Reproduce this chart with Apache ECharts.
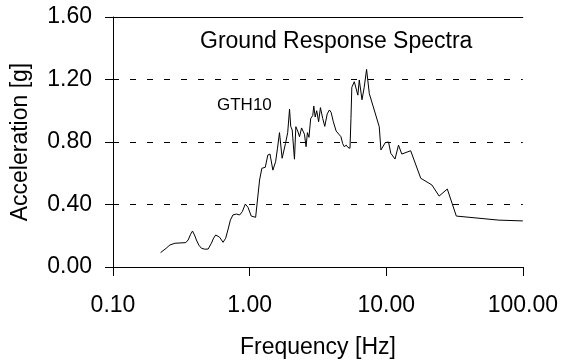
<!DOCTYPE html>
<html><head><meta charset="utf-8">
<script src="https://cdn.jsdelivr.net/npm/echarts@6/dist/echarts.min.js"></script>
<style>html,body{margin:0;padding:0;background:#fff}#c{width:561px;height:364px}</style>
</head><body><div id="c"></div>
<script>
const freq = [0.223,0.245,0.261,0.284,0.341,0.355,0.370,0.382,0.395,0.408,0.425,0.444,0.470,0.497,0.525,0.545,0.565,0.604,0.639,0.668,0.700,0.723,0.755,0.800,0.845,0.884,0.93,0.973,1.028,1.107,1.183,1.23,1.302,1.36,1.41,1.48,1.55,1.60,1.655,1.73,1.83,1.90,1.96,2.0,2.05,2.13,2.18,2.25,2.32,2.40,2.46,2.52,2.59,2.65,2.72,2.80,2.9,2.95,3.02,3.1,3.2,3.3,3.43,3.55,3.7,3.84,3.95,4.1,4.3,4.5,4.66,4.8,4.93,5.1,5.25,5.43,5.52,5.6,5.84,6.0,6.2,6.35,6.65,6.9,7.18,7.52,8.17,8.89,9.15,9.84,10.4,10.8,11.6,12.3,13.0,15.1,17.9,21.6,24.4,28.0,32.6,66.8,100];
const accel = [0.092,0.12,0.141,0.152,0.156,0.173,0.21,0.23,0.205,0.173,0.14,0.12,0.114,0.115,0.152,0.185,0.205,0.19,0.158,0.184,0.25,0.30,0.333,0.339,0.333,0.354,0.403,0.382,0.326,0.318,0.557,0.632,0.638,0.717,0.723,0.62,0.674,0.76,0.86,0.696,0.79,0.86,1.01,0.90,0.877,0.69,0.898,0.87,0.834,0.89,0.898,0.85,0.77,0.86,0.83,0.95,0.97,1.03,0.96,1.0,0.93,1.02,0.95,0.90,0.98,1.005,0.99,0.93,0.87,0.85,0.834,0.79,0.77,0.78,0.765,0.76,0.95,1.15,1.186,1.19,1.10,1.197,1.07,1.15,1.265,1.11,1.005,0.898,0.749,0.796,0.8,0.728,0.691,0.78,0.723,0.744,0.568,0.525,0.454,0.499,0.326,0.30,0.295];
const yTicks = [0, 0.4, 0.8, 1.2, 1.6];
const xTicks = [0.1, 1, 10, 100];
const seriesName = 'GTH10';
const chartTitle = 'Ground Response Spectra';

const FONT = 'Liberation Sans, Arial, sans-serif';
const chart = echarts.init(document.getElementById('c'), null, {renderer:'canvas'});
chart.setOption({
  animation:false,
  backgroundColor:'#fff',
  grid:{left:113,right:37,top:17,bottom:97},
  title:{text:chartTitle,left:200,top:30,padding:0,textStyle:{fontFamily:FONT,fontSize:23,fontWeight:'normal',color:'#000'}},
  graphic:[{type:'text',left:217,top:97,style:{text:seriesName,font:'17px '+FONT,fill:'#000'}}],
  xAxis:[{type:'log',logBase:10,min:xTicks[0],max:xTicks[xTicks.length-1],
    name:'Frequency [Hz]',nameLocation:'middle',nameGap:69,
    nameTextStyle:{fontFamily:FONT,fontSize:23,color:'#000'},
    axisLine:{lineStyle:{color:'#000',width:1}},
    axisTick:{inside:false,length:9,lineStyle:{color:'#000'}},
    axisLabel:{margin:27,fontFamily:FONT,fontSize:23,color:'#000',formatter:v=>Number(v).toFixed(2)},
    minorTick:{show:false},splitLine:{show:false}},
   {type:'log',position:'top',min:xTicks[0],max:xTicks[xTicks.length-1],
    axisLine:{show:true,lineStyle:{color:'#000',width:1}},axisTick:{show:false},axisLabel:{show:false},splitLine:{show:false}}],
  yAxis:{type:'value',min:yTicks[0],max:yTicks[yTicks.length-1],interval:0.4,
    name:'Acceleration [g]',nameLocation:'middle',nameGap:81,
    nameTextStyle:{fontFamily:FONT,fontSize:23,color:'#000'},
    axisLine:{show:true,lineStyle:{color:'#000',width:1}},
    axisTick:{show:true,inside:false,length:8,lineStyle:{color:'#000'}},
    axisLabel:{margin:21,fontFamily:FONT,fontSize:23,color:'#000',formatter:v=>v.toFixed(2)},
    splitLine:{show:true,lineStyle:{color:'#000',type:[6,11],width:1}}},
  series:[{type:'line',name:seriesName,data:freq.map((f,i)=>[f,accel[i]]),
    showSymbol:false,symbol:'none',lineStyle:{color:'#000',width:1},smooth:false}]
});
</script></body></html>
